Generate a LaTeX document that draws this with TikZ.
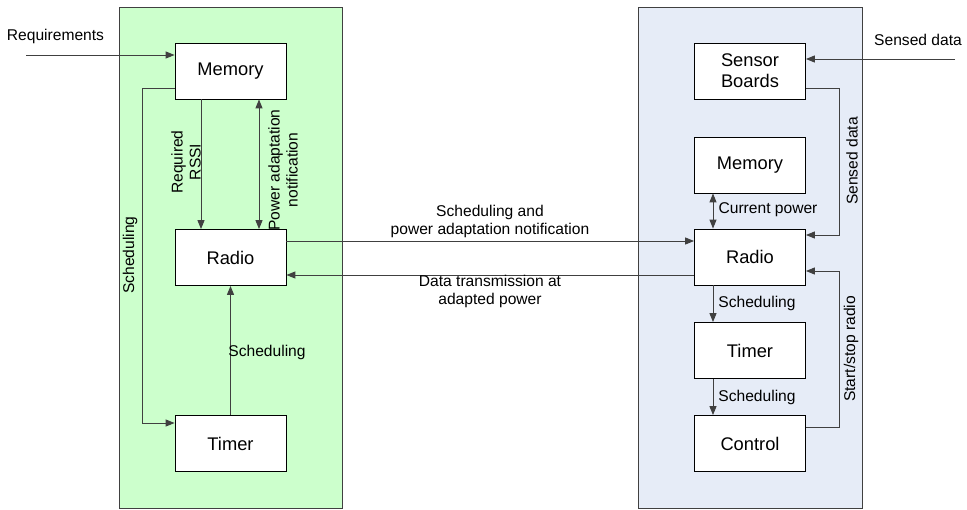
\documentclass[tikz,border=0pt]{standalone}
\usepackage{fontspec}
\setmainfont{Liberation Sans}
\usetikzlibrary{arrows.meta}
\definecolor{greenfill}{HTML}{CCFFCC}
\definecolor{bluefill}{HTML}{E6ECF7}
\definecolor{linegray}{HTML}{404040}
\tikzset{
  panel/.style={draw=linegray, line width=1pt},
  box/.style={draw=black, fill=white, line width=0.8pt, minimum width=111pt, minimum height=56pt, inner sep=0pt, font=\fontsize{18.3}{21}\selectfont, align=center},
  lbl/.style={font=\fontsize{15.6}{18}\selectfont, align=center, inner sep=0pt},
  conn/.style={draw=linegray, line width=1pt},
  arr/.style={conn, -{Triangle[length=9pt,width=7pt]}},
  darr/.style={conn, {Triangle[length=9pt,width=7pt]}-{Triangle[length=9pt,width=7pt]}}
}
\begin{document}
\begin{tikzpicture}[x=1pt,y=-1pt]
\useasboundingbox (0,0) rectangle (967,509);
% panels
\draw[panel, fill=greenfill] (119,7) rectangle (342,508);
\draw[panel, fill=bluefill] (638,7) rectangle (862,508);
% left boxes
\node[box] (lmem) at (230.5,71) {Memory};
\node[box] (lradio) at (230.5,257.5) {Radio};
\node[box] (ltimer) at (230.5,443.5) {Timer};
% right boxes
\node[box] (rsens) at (750,71) {Sensor\\Boards};
\node[box] (rmem) at (750,165) {Memory};
\node[box] (rradio) at (750,257) {Radio};
\node[box] (rtimer) at (750,350.5) {Timer};
\node[box] (rctrl) at (750,443.5) {Control};
% free ends
\coordinate (reqin) at (26,55);
\coordinate (sensin) at (955,59);
% left connectors
\draw[arr] (reqin) -- (reqin -| lmem.west);
\draw[arr] (lmem.west |- 0,88) -- (142,88) -- (142,423) -- (ltimer.west |- 0,423);
\draw[arr] (lmem.south -| 201,0) -- (lradio.north -| 201,0);
\draw[darr] (lmem.south -| 259,0) -- (lradio.north -| 259,0);
\draw[arr] (ltimer.north) -- (lradio.south);
% between panels
\draw[arr] (lradio.east |- 0,241) -- (rradio.west |- 0,241);
\draw[arr] (rradio.west |- 0,275) -- (lradio.east |- 0,275);
% right connectors
\draw[arr] (sensin) -- (sensin -| rsens.east);
\draw[arr] (rsens.east |- 0,88) -- (839,88) -- (839,235) -- (rradio.east |- 0,235);
\draw[darr] (rmem.south -| 713,0) -- (rradio.north -| 713,0);
\draw[arr] (rradio.south -| 713,0) -- (rtimer.north -| 713,0);
\draw[arr] (rtimer.south -| 713,0) -- (rctrl.north -| 713,0);
\draw[arr] (rctrl.east |- 0,427) -- (839,427) -- (839,271) -- (rradio.east |- 0,271);
% labels
\node[lbl] (lreq) at (55.5,36) {Requirements};
\node[lbl, rotate=90] (lsch1) at (130,255) {Scheduling};
\node[lbl, rotate=90] (lrssi) at (186,162) {Required\\RSSI};
\node[lbl, rotate=90] (lpow) at (283,170) {Power adaptation\\notification};
\node[lbl] (lsch2) at (267,352) {Scheduling};
\node[lbl] (lschpow) at (490,221) {Scheduling and\\power adaptation notification};
\node[lbl] (ldata) at (490,291) {Data transmission at\\adapted power};
\node[lbl] (lsens1) at (918,40) {Sensed data};
\node[lbl, rotate=90] (lsens2) at (852,161) {Sensed data};
\node[lbl] (lcur) at (768,210) {Current power};
\node[lbl] (lsch3) at (757,303) {Scheduling};
\node[lbl] (lsch4) at (757,397) {Scheduling};
\node[lbl, rotate=90] (lstart) at (851,349) {Start/stop radio};
\end{tikzpicture}
\end{document}
